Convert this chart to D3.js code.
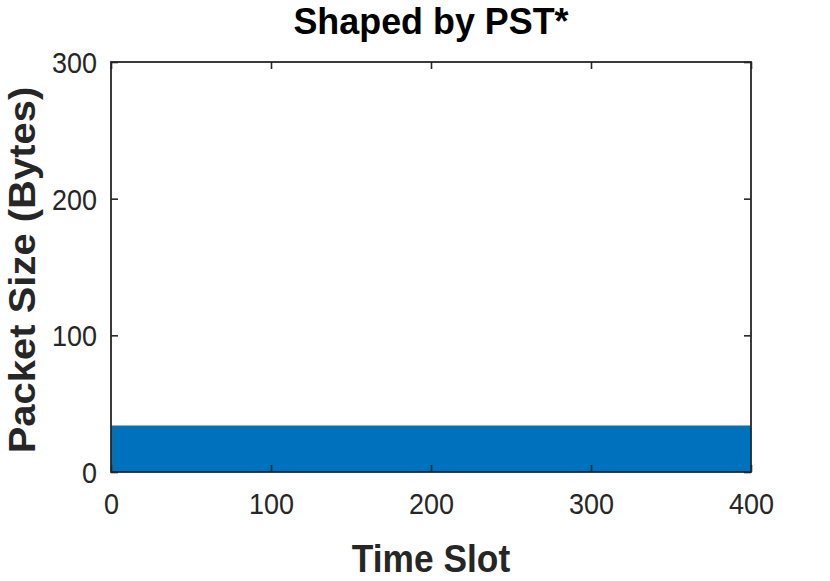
<!DOCTYPE html>
<html>
<head>
<meta charset="utf-8">
<script src="https://cdn.jsdelivr.net/npm/d3@7"></script>
<style>
  html, body { margin: 0; padding: 0; background: #fff; }
  svg { display: block; }
  text { font-family: "Liberation Sans", Arial, Helvetica, sans-serif; }
</style>
</head>
<body>
<svg id="chart" width="830" height="581"></svg>
<script>
// ---- data ----
const titleText = "Shaped by PST*";
const xLabel = "Time Slot";
const yLabel = "Packet Size (Bytes)";
const xDomain = [0, 400];
const yDomain = [0, 300];
const xTicks = [0, 100, 200, 300, 400];
const yTicks = [0, 100, 200, 300];
// packet size per time slot (constant shaped size)
const timeSlots = [0, 400];
const packetSizes = [34, 34];

(function () {
  // ---- layout ----
  const mLeft = 111, mRight = 751, mTop = 62, mBottom = 472;
  const SX = 0.93; // horizontal squeeze of glyphs
  const axisColor = "#262626";
  const fill = "#0072BD";

  const svg = d3.select("#chart");
  const x = d3.scaleLinear().domain(xDomain).range([mLeft, mRight]);
  const y = d3.scaleLinear().domain(yDomain).range([mBottom, mTop]);

  // area
  const area = d3.area()
    .x((d, i) => x(timeSlots[i]))
    .y0(y(0))
    .y1(d => y(d));
  svg.append("path")
    .datum(packetSizes)
    .attr("d", area)
    .attr("fill", fill)
    .attr("stroke", "none");

  function squeeze(sel) {
    sel.each(function () {
      const t = d3.select(this);
      const tx = +t.attr("x") || 0, ty = +t.attr("y") || 0;
      t.attr("x", 0).attr("y", 0)
       .attr("transform", `translate(${tx},${ty}) scale(${SX},1)`);
    });
  }

  function styleAxis(g) {
    g.select(".domain").remove();
    g.selectAll(".tick line").attr("stroke", axisColor).attr("stroke-width", 1.6);
    g.selectAll(".tick text").attr("fill", axisColor).attr("font-size", 29);
  }

  const tickLen = 7;
  const gB = svg.append("g").attr("transform", `translate(0,${mBottom})`)
    .call(d3.axisBottom(x).tickValues(xTicks).tickSizeInner(-tickLen).tickSizeOuter(0).tickPadding(21).tickFormat(d3.format("d")));
  styleAxis(gB);
  gB.selectAll(".tick text").call(squeeze);

  const gT = svg.append("g").attr("transform", `translate(0,${mTop})`)
    .call(d3.axisTop(x).tickValues(xTicks).tickSizeInner(-tickLen).tickSizeOuter(0).tickFormat(""));
  styleAxis(gT);

  const gL = svg.append("g").attr("transform", `translate(${mLeft},0)`)
    .call(d3.axisLeft(y).tickValues(yTicks).tickSizeInner(-tickLen).tickSizeOuter(0).tickPadding(14).tickFormat(d3.format("d")));
  styleAxis(gL);
  gL.selectAll(".tick text").attr("dy", "0.36em").call(squeeze);

  const gR = svg.append("g").attr("transform", `translate(${mRight},0)`)
    .call(d3.axisRight(y).tickValues(yTicks).tickSizeInner(-tickLen).tickSizeOuter(0).tickFormat(""));
  styleAxis(gR);

  // frame
  svg.append("rect")
    .attr("x", mLeft).attr("y", mTop)
    .attr("width", mRight - mLeft).attr("height", mBottom - mTop)
    .attr("fill", "none").attr("stroke", axisColor).attr("stroke-width", 1.8);

  // title
  svg.append("text")
    .attr("transform", `translate(${(mLeft + mRight) / 2},34) scale(0.97,1)`)
    .attr("text-anchor", "middle")
    .attr("font-size", 37).attr("font-weight", "bold").attr("fill", "#000")
    .text(titleText);

  // x label
  svg.append("text")
    .attr("transform", `translate(${(mLeft + mRight) / 2},572) scale(${SX},1)`)
    .attr("text-anchor", "middle")
    .attr("font-size", 38).attr("font-weight", "bold").attr("fill", axisColor)
    .text(xLabel);

  // y label
  svg.append("text")
    .attr("transform", `translate(35,270) scale(${SX},1) rotate(-90)`)
    .attr("text-anchor", "middle")
    .attr("font-size", 40).attr("font-weight", "bold").attr("fill", axisColor)
    .text(yLabel);
})();
</script>
</body>
</html>
